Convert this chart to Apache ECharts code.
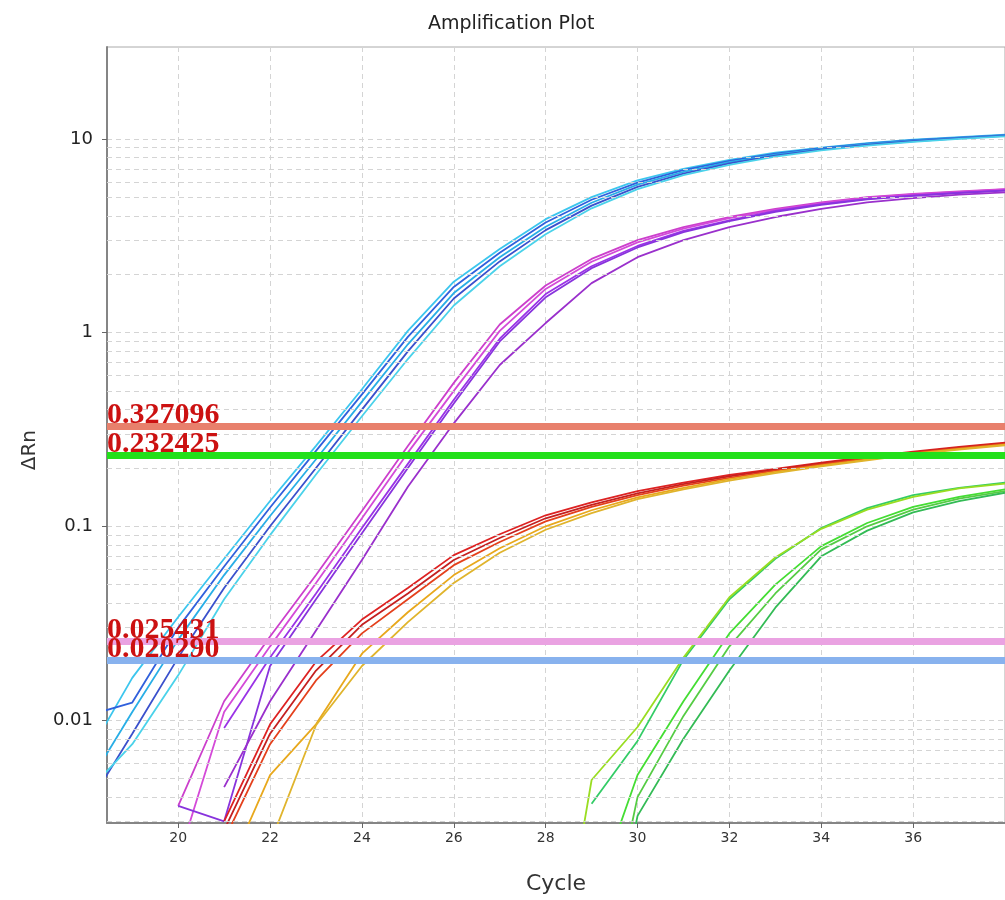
<!DOCTYPE html>
<html>
<head>
<meta charset="utf-8">
<script src="https://cdn.jsdelivr.net/npm/echarts@6/dist/echarts.min.js"></script>
<style>
html,body{margin:0;padding:0;background:#fff;}
#chart{width:1005px;height:900px;}
</style>
</head>
<body>
<div id="chart"></div>
<script>
// ---- data ----
const cycles = [18,19,20,21,22,23,24,25,26,27,28,29,30,31,32,33,34,35,36,37,38];

// cyan / blue group
const cyan1 = [0.0064,0.0165,0.034,0.068,0.135,0.26,0.51,1.02,1.83,2.7,3.85,5.0,6.1,7.0,7.8,8.5,9.0,9.5,9.9,10.2,10.5];
const cyan2 = [0.0105,0.0123,0.030,0.062,0.125,0.245,0.48,0.95,1.72,2.58,3.7,4.85,5.95,6.9,7.7,8.4,8.95,9.45,9.85,10.15,10.45];
const cyan3 = [0.0045,0.011,0.026,0.056,0.113,0.222,0.44,0.87,1.6,2.45,3.52,4.68,5.8,6.75,7.58,8.3,8.88,9.38,9.78,10.1,10.4];
const cyan4 = [0.0035,0.0085,0.021,0.048,0.1,0.2,0.4,0.8,1.5,2.33,3.38,4.52,5.65,6.62,7.47,8.2,8.8,9.3,9.72,10.05,10.35];
const cyan5 = [0.0042,0.0075,0.017,0.042,0.09,0.185,0.37,0.73,1.38,2.2,3.22,4.38,5.5,6.5,7.35,8.1,8.72,9.22,9.65,10.0,10.3];

// purple / magenta group
const purple1 = [null,null,0.0036,0.0125,0.027,0.056,0.12,0.26,0.55,1.1,1.75,2.4,3.0,3.5,3.95,4.35,4.7,5.0,5.2,5.35,5.5];
const purple2 = [null,null,0.0019,0.011,0.024,0.051,0.11,0.24,0.5,1.02,1.68,2.32,2.92,3.44,3.9,4.3,4.66,4.97,5.17,5.33,5.48];
const purple3 = [null,null,null,0.0091,0.021,0.045,0.098,0.21,0.45,0.93,1.58,2.2,2.8,3.35,3.8,4.25,4.6,4.9,5.1,5.28,5.42];
const purple4 = [null,null,0.0036,0.003,0.019,0.042,0.092,0.2,0.43,0.9,1.52,2.15,2.75,3.3,3.76,4.2,4.56,4.87,5.08,5.25,5.4];
const purple5 = [null,null,null,0.0045,0.0125,0.029,0.067,0.16,0.34,0.68,1.12,1.8,2.45,3.0,3.5,3.95,4.35,4.7,4.95,5.15,5.3];

// red / orange / yellow group
const red1 = [null,null,null,0.003,0.0095,0.02,0.033,0.048,0.071,0.091,0.114,0.133,0.152,0.168,0.184,0.198,0.213,0.228,0.243,0.257,0.27];
const red2 = [null,null,null,0.0027,0.0085,0.018,0.031,0.045,0.067,0.087,0.11,0.129,0.148,0.165,0.181,0.196,0.211,0.226,0.241,0.255,0.268];
const red3 = [null,null,null,0.0024,0.0075,0.016,0.028,0.042,0.063,0.083,0.106,0.126,0.145,0.162,0.178,0.194,0.209,0.224,0.239,0.253,0.266];
const yellow1 = [null,null,null,0.0015,0.0052,0.0095,0.022,0.036,0.056,0.077,0.1,0.121,0.141,0.158,0.175,0.191,0.206,0.221,0.237,0.251,0.264];
const yellow2 = [null,null,null,0.001,0.0023,0.0094,0.019,0.032,0.051,0.073,0.096,0.117,0.138,0.155,0.172,0.188,0.204,0.219,0.235,0.249,0.262];

// green group
const green1 = [null,null,null,null,null,null,null,null,null,null,null,0.0037,0.0078,0.0205,0.042,0.068,0.098,0.124,0.145,0.158,0.168];
const green2 = [null,null,null,null,null,null,null,null,null,null,0.0002,0.0049,0.0092,0.021,0.043,0.069,0.097,0.122,0.142,0.157,0.166];
const green3 = [null,null,null,null,null,null,null,null,null,null,null,0.0011,0.0052,0.0125,0.028,0.05,0.079,0.104,0.126,0.142,0.155];
const green4 = [null,null,null,null,null,null,null,null,null,null,null,0.0003,0.004,0.0105,0.024,0.045,0.076,0.1,0.122,0.139,0.152];
const green5 = [null,null,null,null,null,null,null,null,null,null,null,0.0002,0.0032,0.008,0.018,0.038,0.07,0.095,0.118,0.135,0.149];

// threshold lines
const thresholds = [0.327096, 0.232425, 0.020290, 0.025431];
const thresholdLabels = ['0.327096', '0.232425', '0.020290', '0.025431'];

// minor log grid lines
const minorGrid = [0.003,0.004,0.005,0.006,0.007,0.008,0.009,
                   0.02,0.03,0.04,0.05,0.06,0.07,0.08,0.09,
                   0.2,0.3,0.4,0.5,0.6,0.7,0.8,0.9,
                   2,3,4,5,6,7,8,9];

// axis labels
const titleText = 'Amplification Plot';
const xName = 'Cycle';
const yName = 'ΔRn';

// ---- styles ----
const curveSets = [
  [cyan1,'#3cc6ee'],[cyan2,'#3060dc'],[cyan3,'#28aee6'],[cyan4,'#3a50cc'],[cyan5,'#4ad2ea'],
  [purple1,'#cc3fcc'],[purple2,'#d44ad8'],[purple3,'#9a33e6'],[purple4,'#8833dd'],[purple5,'#9a30cc'],
  [red1,'#dd2222'],[red2,'#c42020'],[red3,'#e4401c'],[yellow1,'#e8a81c'],[yellow2,'#e0b42c'],
  [green1,'#33cc66'],[green2,'#99dd22'],[green3,'#44dd33'],[green4,'#55cc44'],[green5,'#33bb55']
];
const thresholdColors = ['#e8806c', '#22e01a', '#88b2ee', '#eaa2e2'];

const series = [];
series.push({
  type: 'line', data: [], z: 1, silent: true,
  markLine: {
    silent: true, symbol: ['none','none'], animation: false, precision: 6,
    label: {show: false},
    lineStyle: {color: '#d4d4d4', width: 1, type: [5,4]},
    data: minorGrid.map(v => ({yAxis: v}))
  }
});
curveSets.forEach(function (cs) {
  series.push({
    type: 'line',
    data: cycles.map((c, k) => [c, cs[0][k]]),
    showSymbol: false, symbol: 'none',
    lineStyle: {color: cs[1], width: 1.8},
    itemStyle: {color: cs[1]},
    clip: true, connectNulls: false, z: 2,
    silent: true
  });
});
thresholds.forEach(function (t, i) {
  series.push({
    type: 'line', data: [], z: 5 + i, silent: true,
    markLine: {
      silent: true, symbol: ['none','none'], animation: false, precision: 6,
      lineStyle: {color: thresholdColors[i], width: 7, type: 'solid', opacity: 1},
      label: {
        show: true, position: 'insideStartTop', formatter: thresholdLabels[i],
        color: '#cc1111', fontFamily: 'Liberation Serif', fontWeight: 'bold',
        fontSize: 30, distance: [0, -4]
      },
      data: [{yAxis: t}]
    }
  });
});

const chart = echarts.init(document.getElementById('chart'), null, {renderer: 'canvas'});
chart.setOption({
  animation: false,
  backgroundColor: '#fff',
  title: {
    text: titleText, left: 423, top: 10,
    textStyle: {fontFamily: 'DejaVu Sans', fontSize: 19, fontWeight: 'normal', color: '#222'}
  },
  grid: {left: 107, top: 47, right: -5, bottom: 76, show: true, borderColor: '#aaaaaa', borderWidth: 1},
  xAxis: {
    type: 'value', min: 18.45, max: 38, splitNumber: 10, minInterval: 2, maxInterval: 2,
    name: xName, nameLocation: 'middle', nameGap: 50,
    nameTextStyle: {fontFamily: 'DejaVu Sans', fontSize: 22, color: '#333'},
    axisLine: {show: true, lineStyle: {color: '#858585', width: 2}},
    axisTick: {show: true, length: 5, lineStyle: {color: '#666'}},
    axisLabel: {
      showMinLabel: false, showMaxLabel: false, margin: 8,
      fontFamily: 'DejaVu Sans', fontSize: 14, color: '#333',
      formatter: v => (Math.abs(v % 2) < 1e-9 ? String(v) : '')
    },
    splitLine: {show: true, lineStyle: {color: '#d4d4d4', type: [5,4], width: 1}}
  },
  yAxis: {
    type: 'log', logBase: 10, min: 0.00294, max: 29.8,
    axisLine: {show: true, lineStyle: {color: '#858585', width: 2}},
    axisTick: {show: true, length: 5, lineStyle: {color: '#666'}},
    axisLabel: {
      showMinLabel: false, showMaxLabel: false, margin: 14,
      fontFamily: 'DejaVu Sans', fontSize: 18, color: '#222',
      formatter: function (v) {
        const e = Math.log10(v), r = Math.round(e);
        if (Math.abs(e - r) > 1e-6) return '';
        return r >= 0 ? String(Math.pow(10, r)) : Math.pow(10, r).toFixed(-r);
      }
    },
    splitLine: {show: true, lineStyle: {color: '#d4d4d4', type: [5,4], width: 1}}
  },
  graphic: [{
    type: 'text', left: 20, top: 430, rotation: Math.PI / 2,
    style: {text: yName, font: '20px "DejaVu Sans"', fill: '#333'}
  }],
  series: series
});
</script>
</body>
</html>
